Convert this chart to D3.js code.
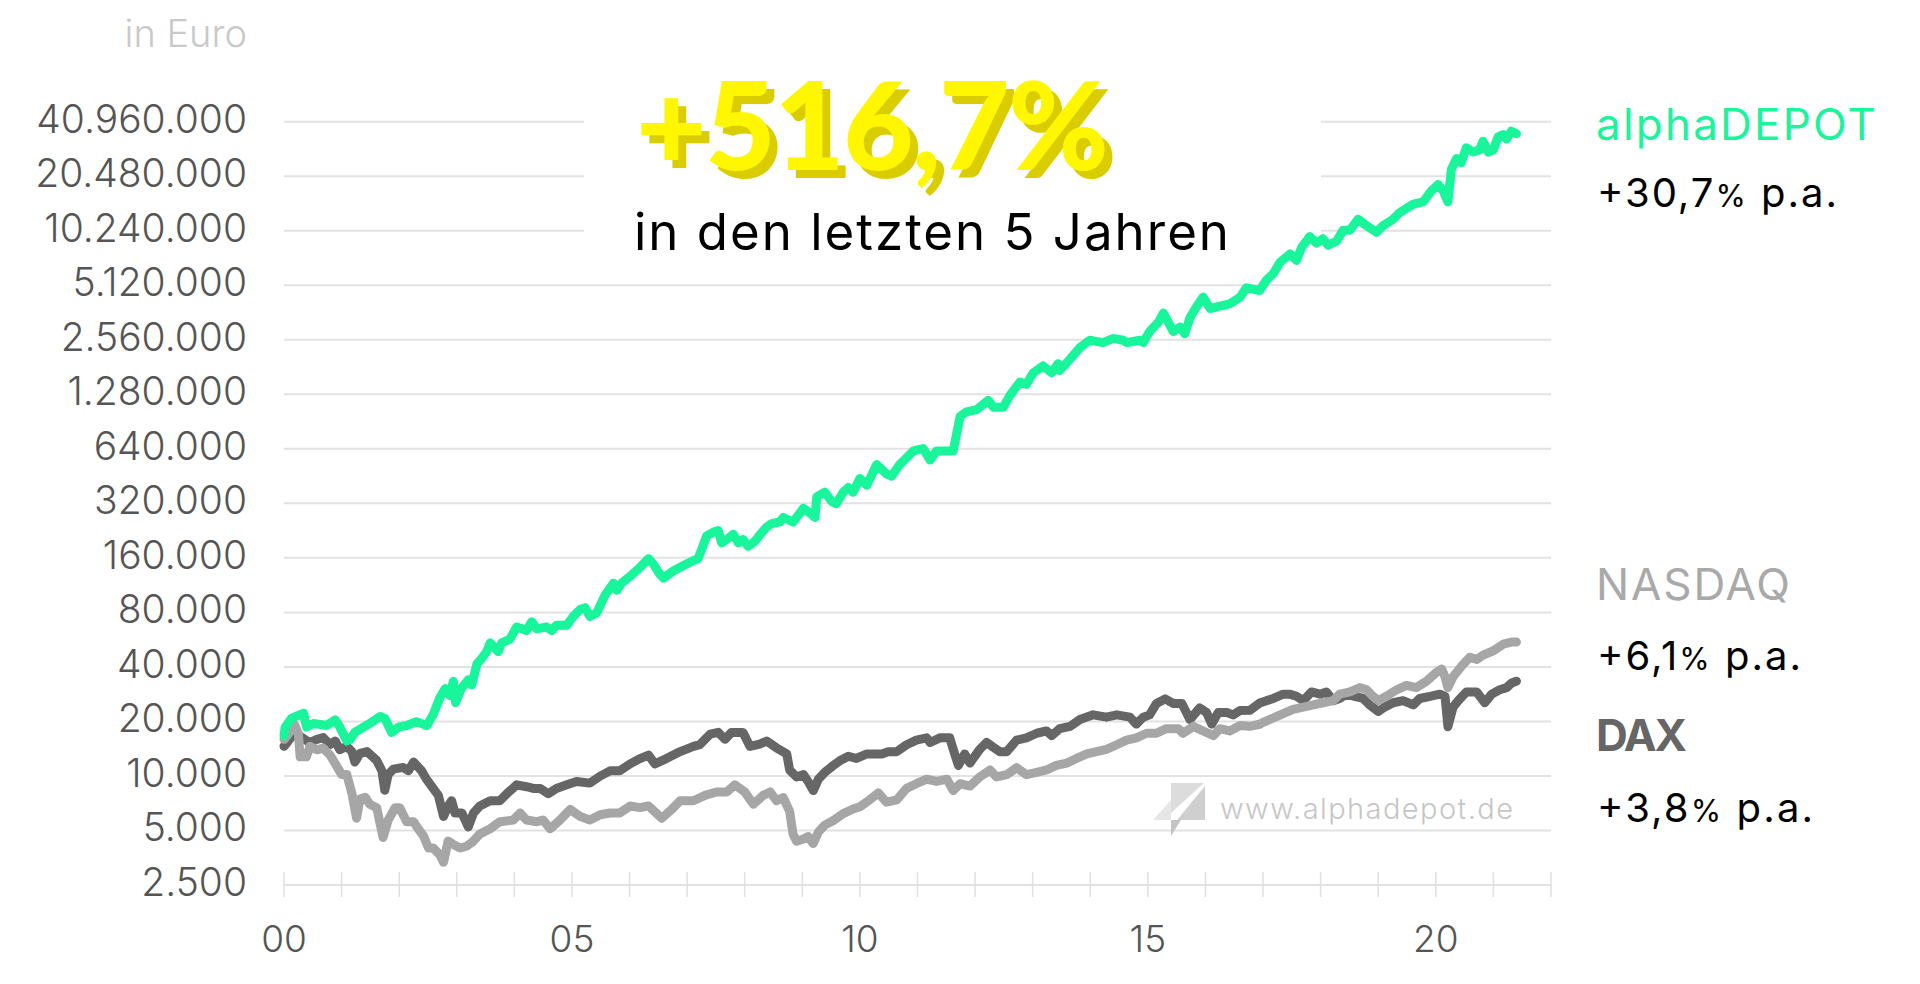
<!DOCTYPE html>
<html><head><meta charset="utf-8">
<script src="https://cdn.jsdelivr.net/npm/d3@7"></script>
<style>
html,body{margin:0;padding:0;background:#fff;}
svg{display:block;}
text{font-family:Inter,"Noto Sans",sans-serif;}
</style></head><body>
<svg id="chart" width="1920" height="984"></svg>
<script>
// ---------- data ----------
const yTickValues = [2500,5000,10000,20000,40000,80000,160000,320000,640000,1280000,2560000,5120000,10240000,20480000,40960000];
const xTickYears = d3.range(2000, 2023);
const xLabelYears = [2000,2005,2010,2015,2020];
const unitLabel = "in Euro";
const headline = "+516,7%";
const subline = "in den letzten 5 Jahren";
const watermark = "www.alphadepot.de";
const seriesNames = ["alphaDEPOT","NASDAQ","DAX"];
const seriesReturns = ["+30,7","+6,1","+3,8"];

const alphaSeries = [[2000.00,16660],[2000.02,18600],[2000.13,20800],[2000.28,21800],[2000.34,22200],[2000.39,18600],[2000.51,19500],[2000.74,19000],[2000.89,20400],[2000.97,18600],[2001.09,15600],[2001.15,15900],[2001.23,17400],[2001.38,18600],[2001.49,19500],[2001.67,21300],[2001.75,20800],[2001.87,17400],[2001.99,18600],[2002.13,19000],[2002.30,19900],[2002.48,19000],[2002.59,21800],[2002.71,27200],[2002.80,30400],[2002.88,27800],[2002.94,33300],[2002.98,25400],[2003.08,30400],[2003.20,34000],[2003.26,31800],[2003.35,41600],[2003.43,44400],[2003.52,48600],[2003.58,54300],[2003.72,48600],[2003.78,54300],[2003.92,56800],[2004.04,66400],[2004.21,63500],[2004.30,71000],[2004.39,64900],[2004.56,66400],[2004.65,63500],[2004.73,67900],[2004.91,67900],[2005.02,75900],[2005.14,82900],[2005.23,84900],[2005.31,75900],[2005.43,79400],[2005.57,99100],[2005.72,115900],[2005.78,106000],[2005.86,115900],[2006.01,126600],[2006.18,141600],[2006.33,158400],[2006.41,148200],[2006.53,129600],[2006.59,123900],[2006.76,135400],[2006.93,144800],[2007.05,151400],[2007.19,158400],[2007.25,177000],[2007.34,211500],[2007.45,221300],[2007.54,226300],[2007.60,193700],[2007.69,202400],[2007.80,216300],[2007.89,193700],[2007.97,202400],[2008.06,185300],[2008.18,197900],[2008.26,214000],[2008.38,236500],[2008.47,247500],[2008.61,253000],[2008.67,267400],[2008.84,252300],[2009.02,300500],[2009.13,283500],[2009.22,267400],[2009.25,347800],[2009.39,368700],[2009.51,328000],[2009.59,318700],[2009.71,368700],[2009.80,391000],[2009.88,368700],[2010.00,439300],[2010.12,402600],[2010.29,523500],[2010.46,465700],[2010.55,452200],[2010.69,523500],[2010.93,623400],[2011.10,641800],[2011.22,554800],[2011.33,623400],[2011.50,623400],[2011.62,623400],[2011.74,966000],[2011.85,1024000],[2012.03,1054000],[2012.23,1185000],[2012.32,1085000],[2012.49,1085000],[2012.60,1256000],[2012.78,1496000],[2012.89,1453000],[2013.01,1682000],[2013.18,1835000],[2013.33,1682000],[2013.44,1889000],[2013.47,1732000],[2013.65,2004000],[2013.82,2318000],[2013.99,2545000],[2014.22,2470000],[2014.40,2604000],[2014.57,2545000],[2014.63,2470000],[2014.86,2545000],[2014.92,2470000],[2015.03,2845000],[2015.18,3196000],[2015.27,3593000],[2015.44,2845000],[2015.56,3016000],[2015.64,2762000],[2015.73,3387000],[2015.85,3922000],[2015.96,4406000],[2016.08,3809000],[2016.25,3922000],[2016.42,4037000],[2016.60,4400000],[2016.71,4953000],[2016.94,4790000],[2017.06,5478000],[2017.18,5945000],[2017.29,6826000],[2017.47,7623000],[2017.58,7020000],[2017.67,8284000],[2017.81,9503000],[2017.93,8750000],[2018.04,9247000],[2018.13,8510000],[2018.28,8996000],[2018.39,10320000],[2018.51,10320000],[2018.65,11860000],[2018.80,10900000],[2018.97,10040000],[2019.08,10900000],[2019.26,11860000],[2019.37,12870000],[2019.49,13600000],[2019.61,14370000],[2019.78,14780000],[2019.92,16960000],[2020.04,18420000],[2020.13,16960000],[2020.21,14780000],[2020.27,22340000],[2020.36,25660000],[2020.44,24290000],[2020.53,29430000],[2020.65,27850000],[2020.76,28630000],[2020.82,31970000],[2020.91,27850000],[2021.00,28630000],[2021.08,33770000],[2021.17,34730000],[2021.23,32850000],[2021.31,36270000],[2021.40,35120000]];

const daxSeries = [[2000.00,14570],[2000.05,15240],[2000.19,17400],[2000.31,16290],[2000.45,15240],[2000.57,15930],[2000.68,16290],[2000.80,14900],[2000.89,15580],[2000.97,13940],[2001.09,14570],[2001.18,13630],[2001.23,11930],[2001.32,13330],[2001.44,13630],[2001.61,12190],[2001.70,10670],[2001.75,8340],[2001.81,10200],[2001.90,10910],[2002.07,11150],[2002.16,10670],[2002.25,11930],[2002.39,10670],[2002.48,9540],[2002.59,8530],[2002.68,7810],[2002.77,5980],[2002.85,6830],[2002.91,7300],[2002.97,6240],[2003.09,6240],[2003.20,5230],[2003.29,6240],[2003.40,6830],[2003.58,7300],[2003.75,7300],[2003.87,7980],[2004.04,8930],[2004.21,8720],[2004.33,8530],[2004.45,8530],[2004.59,7980],[2004.73,8530],[2004.91,8930],[2005.08,9330],[2005.31,9130],[2005.49,9980],[2005.66,10670],[2005.83,10670],[2006.01,11660],[2006.18,12470],[2006.33,13040],[2006.44,11660],[2006.64,12470],[2006.88,13630],[2007.11,14570],[2007.22,14900],[2007.40,17030],[2007.54,17400],[2007.66,15930],[2007.77,17400],[2007.97,17400],[2008.09,14570],[2008.26,15000],[2008.38,15580],[2008.55,14300],[2008.73,13230],[2008.78,10790],[2008.90,9880],[2009.02,10170],[2009.10,9330],[2009.19,8300],[2009.28,9600],[2009.39,10470],[2009.54,11440],[2009.65,12130],[2009.80,12850],[2009.94,12490],[2010.12,13230],[2010.38,13230],[2010.49,13620],[2010.64,13620],[2010.81,14870],[2010.98,15760],[2011.16,16230],[2011.22,15310],[2011.39,16230],[2011.56,16230],[2011.62,14030],[2011.71,11440],[2011.82,13230],[2011.91,11780],[2012.08,14030],[2012.20,15310],[2012.31,14450],[2012.43,13620],[2012.55,13620],[2012.72,15760],[2012.89,16230],[2013.07,17210],[2013.24,17720],[2013.33,16710],[2013.47,18240],[2013.65,18780],[2013.82,20500],[2014.05,21740],[2014.28,21110],[2014.46,21740],[2014.69,21110],[2014.80,19330],[2014.92,21110],[2015.03,21740],[2015.15,25140],[2015.30,26650],[2015.44,25140],[2015.59,25140],[2015.73,20500],[2015.90,23720],[2016.02,22380],[2016.11,19330],[2016.22,22380],[2016.37,22380],[2016.48,21740],[2016.60,23000],[2016.77,23050],[2016.94,25250],[2017.06,26050],[2017.18,26780],[2017.35,28300],[2017.46,28300],[2017.58,27530],[2017.70,26050],[2017.84,29100],[2017.99,28300],[2018.10,29100],[2018.22,26050],[2018.33,26780],[2018.45,28300],[2018.59,27530],[2018.74,26780],[2018.85,24670],[2019.00,22710],[2019.11,23990],[2019.26,25360],[2019.43,26050],[2019.61,24670],[2019.72,26780],[2019.90,27530],[2020.07,28300],[2020.16,27530],[2020.21,18710],[2020.30,23990],[2020.39,26050],[2020.53,29100],[2020.71,29100],[2020.85,25360],[2020.97,28300],[2021.11,29900],[2021.23,30740],[2021.31,32490],[2021.40,33380]];

const nasdaqSeries = [[2000.00,15930],[2000.05,16660],[2000.19,19040],[2000.25,17030],[2000.28,12750],[2000.39,12750],[2000.45,14570],[2000.57,13940],[2000.68,14250],[2000.80,13040],[2000.91,11400],[2001.00,10200],[2001.09,10200],[2001.18,7980],[2001.26,5840],[2001.32,7460],[2001.41,7630],[2001.49,6980],[2001.61,6680],[2001.72,4570],[2001.81,5710],[2001.93,6680],[2002.01,6680],[2002.13,5590],[2002.25,5590],[2002.33,5110],[2002.42,4680],[2002.51,4000],[2002.59,4000],[2002.71,3660],[2002.77,3340],[2002.85,4370],[2002.94,4180],[2003.06,4000],[2003.17,4090],[2003.29,4370],[2003.40,4780],[2003.58,5110],[2003.75,5590],[2003.98,5710],[2004.10,6240],[2004.21,5710],[2004.39,5590],[2004.50,5710],[2004.62,5110],[2004.79,5710],[2004.97,6530],[2005.14,5980],[2005.31,5710],[2005.49,6110],[2005.66,6240],[2005.83,6240],[2006.01,6830],[2006.18,6680],[2006.33,6830],[2006.56,5840],[2006.73,6530],[2006.88,7300],[2007.11,7300],[2007.31,7810],[2007.51,8160],[2007.69,8160],[2007.83,8930],[2008.00,8160],[2008.15,6980],[2008.32,7810],[2008.44,8160],[2008.55,7300],[2008.67,7600],[2008.78,6380],[2008.84,4760],[2008.90,4360],[2009.02,4490],[2009.10,4630],[2009.19,4240],[2009.28,4900],[2009.39,5350],[2009.54,5680],[2009.71,6200],[2009.88,6570],[2010.00,6760],[2010.17,7380],[2010.32,8060],[2010.46,7170],[2010.64,7380],[2010.81,8540],[2010.98,9060],[2011.16,9600],[2011.33,9330],[2011.51,9600],[2011.62,8300],[2011.74,9060],[2011.91,8790],[2012.08,9880],[2012.26,10790],[2012.37,9880],[2012.55,10170],[2012.72,11110],[2012.89,10170],[2013.07,10470],[2013.24,10790],[2013.41,11440],[2013.59,11780],[2013.76,12490],[2013.94,13230],[2014.11,13620],[2014.28,14030],[2014.46,14870],[2014.63,15760],[2014.80,16230],[2014.98,17210],[2015.15,17210],[2015.32,18240],[2015.53,18240],[2015.61,17210],[2015.79,18780],[2015.96,17720],[2016.14,16710],[2016.25,18240],[2016.42,17720],[2016.60,19000],[2016.77,18800],[2016.94,19300],[2017.00,19780],[2017.18,20900],[2017.35,22090],[2017.52,23340],[2017.70,23990],[2017.87,24670],[2018.04,25360],[2018.22,26050],[2018.33,28300],[2018.51,29100],[2018.68,30740],[2018.80,29900],[2018.91,27530],[2019.00,26050],[2019.14,27530],[2019.32,29900],[2019.49,31600],[2019.66,30740],[2019.84,33380],[2020.01,37300],[2020.10,39000],[2020.16,35280],[2020.21,30740],[2020.30,35280],[2020.45,40500],[2020.59,45200],[2020.71,44000],[2020.82,46480],[2021.00,49120],[2021.17,53380],[2021.31,54850],[2021.40,54850]];

// ---------- chart ----------
const svg = d3.select("#chart");
const x = d3.scaleLinear().domain([2000, 2022]).range([284, 1551]);
const y = d3.scaleLog().base(2).domain([2500, 40960000]).range([885, 121.7]);
const de = d3.formatLocale({decimal: ",", thousands: ".", grouping: [3], currency: ["", "€"]});
const fmt = de.format(",d");
const GREEN = "#19f59b", DARK = "#666666", LIGHT = "#a6a6a6", LABEL = "#555555";

// headline shadow filter (one text element, extruded copy drawn by the filter)
const defs = svg.append("defs");
const f = defs.append("filter").attr("id", "hshadow").attr("x", "-5%").attr("y", "-10%").attr("width", "115%").attr("height", "130%");
f.append("feFlood").attr("flood-color", "#d9cd00").attr("result", "c");
f.append("feComposite").attr("in", "c").attr("in2", "SourceAlpha").attr("operator", "in").attr("result", "s");
f.append("feOffset").attr("in", "s").attr("dx", 8).attr("dy", 8).attr("result", "o");
const fm = f.append("feMerge");
fm.append("feMergeNode").attr("in", "o");
fm.append("feMergeNode").attr("in", "SourceGraphic");

// grid
svg.append("g").selectAll("line").data(yTickValues).join("line")
  .attr("x1", x(2000)).attr("x2", x(2022))
  .attr("y1", d => y(d)).attr("y2", d => y(d))
  .attr("stroke", "#e2e2e2").attr("stroke-width", 2);

// year ticks
svg.append("g").selectAll("line").data(xTickYears).join("line")
  .attr("x1", d => x(d)).attr("x2", d => x(d))
  .attr("y1", y(2500) - 13).attr("y2", y(2500) + 12)
  .attr("stroke", "#e2e2e2").attr("stroke-width", 1.6);

// white box behind headline
svg.append("rect").attr("x", 584).attr("y", 90).attr("width", 1321 - 584).attr("height", 170).attr("fill", "#fff");

// y labels
svg.append("g").selectAll("text").data(yTickValues).join("text")
  .attr("x", 247).attr("y", d => y(d) + 11)
  .attr("text-anchor", "end").attr("font-size", 39).attr("font-weight", 350)
  .attr("fill", LABEL).text(d => fmt(d));

svg.append("text").attr("x", 247).attr("y", 47).attr("text-anchor", "end")
  .attr("font-size", 38).attr("font-weight", 300).attr("fill", "#c9c9c9").text(unitLabel);

// x labels
svg.append("g").selectAll("text").data(xLabelYears).join("text")
  .attr("x", d => x(d)).attr("y", 952).attr("text-anchor", "middle")
  .attr("font-size", 37).attr("font-weight", 350).attr("fill", LABEL)
  .text(d => String(d % 100).padStart(2, "0"));

// watermark
const wm = svg.append("g");
wm.append("polygon").attr("points", "1171,783 1204,783 1171,813").attr("fill", "#dcdcdc");
wm.append("polygon").attr("points", "1205,786 1205,820 1177,820").attr("fill", "#cfcfcf");
wm.append("polygon").attr("points", "1153,820 1171,800 1171,820").attr("fill", "#e6e6e6");
wm.append("polygon").attr("points", "1171,820 1181,820 1171,836").attr("fill", "#c4c4c4");
wm.append("text").attr("x", 1220).attr("y", 819).attr("font-size", 29).attr("font-weight", 300)
  .attr("fill", "#c6c6c6").attr("textLength", 293).attr("lengthAdjust", "spacing").text(watermark);

// lines
const line = d3.line().x(d => x(d[0])).y(d => y(d[1]));
const drawLine = (data, color) => svg.append("path").datum(data).attr("d", line)
  .attr("fill", "none").attr("stroke", color).attr("stroke-width", 9)
  .attr("stroke-linejoin", "round").attr("stroke-linecap", "round");
drawLine(daxSeries, DARK);
drawLine(nasdaqSeries, LIGHT);
drawLine(alphaSeries, GREEN);

// headline
svg.append("text").attr("x", 636).attr("y", 170).attr("font-size", 122).attr("font-weight", 900)
  .style("font-family", "Lato, Inter, sans-serif")
  .attr("fill", "#fff700").attr("textLength", 473).attr("lengthAdjust", "spacing")
  .attr("filter", "url(#hshadow)").text(headline);
svg.append("text").attr("x", 634).attr("y", 250).attr("font-size", 51).attr("font-weight", 400)
  .attr("fill", "#000").attr("textLength", 595).attr("lengthAdjust", "spacing").text(subline);

// legend
const legend = [
  {name: seriesNames[0], ret: seriesReturns[0], color: GREEN, weight: 400, ny: 140, ry: 207, nw: 280, rw: 240},
  {name: seriesNames[1], ret: seriesReturns[1], color: "#a9a9a9", weight: 400, ny: 600, ry: 670, nw: 194, rw: 204},
  {name: seriesNames[2], ret: seriesReturns[2], color: DARK, weight: 700, ny: 751, ry: 822, nw: 91, rw: 216}
];
legend.forEach(l => {
  svg.append("text").attr("x", 1596).attr("y", l.ny).attr("font-size", 44).attr("font-weight", l.weight)
    .attr("fill", l.color).attr("textLength", l.nw).attr("lengthAdjust", "spacing").text(l.name);
  const t = svg.append("text").attr("x", 1597).attr("y", l.ry).attr("font-size", 40).attr("font-weight", 400)
    .attr("fill", "#000").attr("textLength", l.rw).attr("lengthAdjust", "spacing");
  t.append("tspan").text(l.ret);
  t.append("tspan").attr("font-size", 31).text("%");
  t.append("tspan").text(" p.a.");
});
</script>
</body></html>
